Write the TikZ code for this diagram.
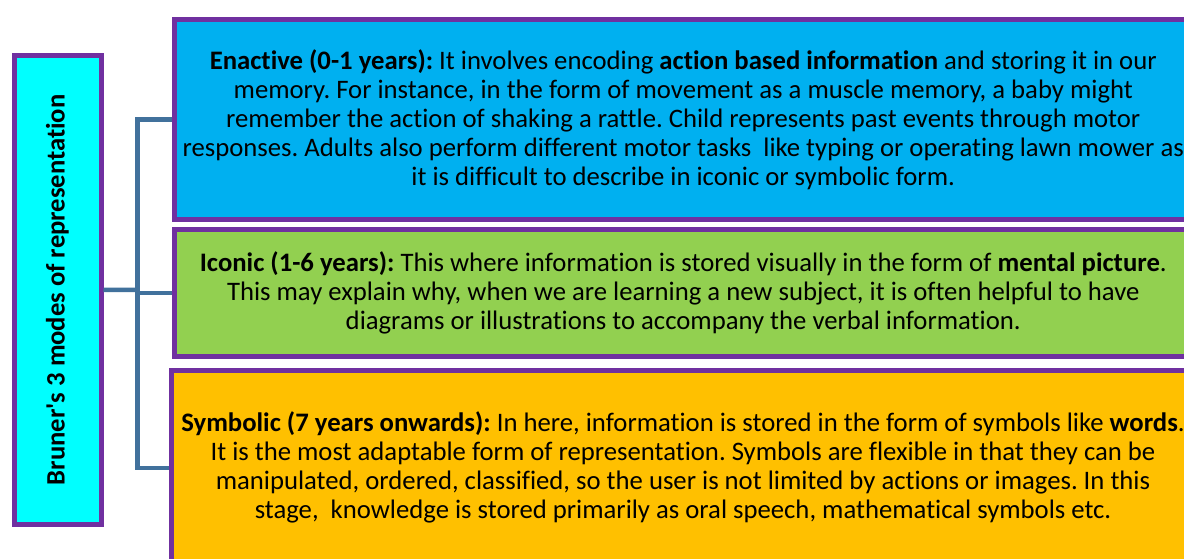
\documentclass[tikz,border=0pt]{standalone}
\usepackage{fontspec}
\setmainfont{Carlito}[RawFeature=-liga]
\definecolor{frame}{HTML}{7030A0}
\definecolor{rootfill}{HTML}{00FFFF}
\definecolor{enfill}{HTML}{00B0F0}
\definecolor{icfill}{HTML}{92D050}
\definecolor{syfill}{HTML}{FFC000}
\definecolor{conncol}{RGB}{65,113,156}
\tikzset{
  modebox/.style={draw=frame, line width=5pt, rectangle, inner sep=2pt, align=center,
    font=\fontsize{26.7}{29}\selectfont\frenchspacing, text=black},
  conn/.style={draw=conncol, line width=4.5pt, line join=miter}
}
\begin{document}
\begin{tikzpicture}[x=1pt,y=-1pt]
\useasboundingbox (0,0) rectangle (1184,559);
\clip (0,0) rectangle (1184,559);
\fill[white] (0,0) rectangle (1184,559);
\node[modebox, fill=rootfill, rotate=90, minimum width=468.5pt, minimum height=87pt,
  font=\fontsize{26.6}{29}\selectfont\bfseries] (root) at (57.5,289.75) {Bruner\textquotesingle s 3 modes of representation};
\node[modebox, fill=enfill, minimum width=1017.5pt, minimum height=199.5pt] (enact) at (683.25,119.75)
 {\textbf{Enactive (0-1 years):} It involves encoding \textbf{action based information} and storing it in our\\
 memory. For instance, in the form of movement as a muscle memory, a baby might\\
 remember the action of shaking a rattle. Child represents past events through motor\\
 responses. Adults also perform different motor tasks\ \ like typing or operating lawn mower as\\
 it is difficult to describe in iconic or symbolic form.};
\node[modebox, fill=icfill, minimum width=1017.5pt, minimum height=126.5pt] (iconic) at (683.25,292.75)
 {\textbf{Iconic (1-6 years):} This where information is stored visually in the form of \textbf{mental picture}.\\
 This may explain why, when we are learning a new subject, it is often helpful to have\\
 diagrams or illustrations to accompany the verbal information.};
\node[modebox, fill=syfill, minimum width=1023pt, minimum height=194.5pt] (symb) at (683,467.75)
 {\textbf{Symbolic (7 years onwards):} In here, information is stored in the form of symbols like \textbf{words}.\\
 It is the most adaptable form of representation. Symbols are flexible in that they can be\\
 manipulated, ordered, classified, so the user is not limited by actions or images. In this\\
 stage,\ \ knowledge is stored primarily as oral speech, mathematical symbols etc.};
\coordinate (j) at (137.5,290);
\draw[conn] (root.south) -- (j);
\draw[conn] (enact.west) -| (j);
\draw[conn] (iconic.west) -| (j);
\draw[conn] (symb.west) -| (j);
\end{tikzpicture}
\end{document}
